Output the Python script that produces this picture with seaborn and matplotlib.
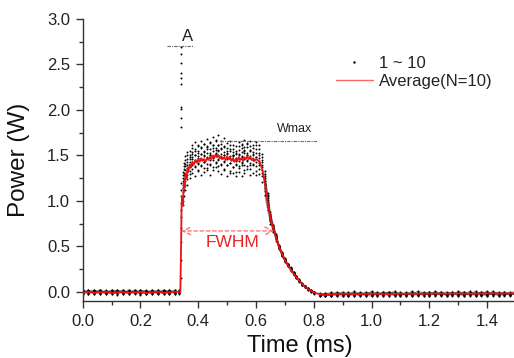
import numpy as np
import pandas as pd
import matplotlib
matplotlib.use("Agg")
import matplotlib.pyplot as plt
from matplotlib.lines import Line2D
from matplotlib.ticker import MultipleLocator, FormatStrFormatter
import seaborn as sns

# ---------------- data ----------------
# sample times of the 10 individual traces (ms)
t_pre = [0.00, 0.02, 0.04, 0.06, 0.08, 0.10, 0.12, 0.14, 0.16, 0.18, 0.20,
         0.22, 0.24, 0.26, 0.28, 0.30, 0.32]
t_edge = [0.335, 0.340, 0.342, 0.346, 0.350, 0.355, 0.360]
t_plat = [0.37, 0.38, 0.39, 0.40, 0.41, 0.42, 0.43, 0.44, 0.45, 0.46, 0.47,
          0.48, 0.49, 0.50, 0.51, 0.52, 0.53, 0.54, 0.55, 0.56, 0.57, 0.58,
          0.59, 0.60, 0.61, 0.62]
t_fall = [0.63, 0.64, 0.65, 0.66, 0.67, 0.68, 0.69, 0.70, 0.71, 0.72, 0.73,
          0.74, 0.75, 0.76, 0.77, 0.78, 0.79, 0.80]
t_post = [0.82, 0.84, 0.86, 0.88, 0.90, 0.92, 0.94, 0.96, 0.98, 1.00, 1.02,
          1.04, 1.06, 1.08, 1.10, 1.12, 1.14, 1.16, 1.18, 1.20, 1.22, 1.24,
          1.26, 1.28, 1.30, 1.32, 1.34, 1.36, 1.38, 1.40, 1.42, 1.44, 1.46,
          1.48, 1.50]

# power of traces 1..10 (W), one row per trace
pre_vals = [
    [0.01, -0.02, 0.00, 0.02, -0.01, 0.01, -0.03, 0.00, 0.02, -0.01, 0.01, -0.02, 0.02, 0.00, -0.01, 0.01, -0.02],
    [-0.01, 0.02, -0.02, 0.00, 0.01, -0.01, 0.02, -0.02, 0.00, 0.01, -0.03, 0.01, 0.00, -0.02, 0.02, -0.01, 0.01],
    [0.00, -0.01, 0.02, -0.02, 0.00, 0.02, -0.01, 0.01, -0.02, 0.00, 0.02, -0.01, -0.02, 0.01, 0.00, -0.02, 0.02],
    [0.02, 0.00, -0.01, 0.01, -0.02, 0.00, 0.01, -0.01, 0.02, -0.02, 0.00, 0.01, -0.01, 0.02, -0.02, 0.00, -0.01],
    [-0.02, 0.01, 0.00, -0.01, 0.02, -0.02, 0.00, 0.02, -0.01, 0.01, -0.01, 0.00, 0.02, -0.01, 0.01, -0.02, 0.00],
    [0.01, 0.00, -0.02, 0.02, 0.00, -0.01, 0.01, 0.00, -0.02, 0.02, 0.00, -0.02, 0.01, -0.01, 0.02, 0.00, 0.01],
    [-0.01, 0.01, 0.02, -0.02, 0.01, 0.00, -0.02, 0.01, 0.00, -0.01, 0.02, 0.01, -0.02, 0.00, -0.01, 0.02, -0.01],
    [0.00, 0.02, -0.01, 0.00, -0.02, 0.02, 0.00, -0.01, 0.01, 0.02, -0.01, -0.02, 0.00, 0.02, 0.01, -0.01, 0.00],
    [0.02, -0.02, 0.01, -0.01, 0.00, 0.01, 0.02, -0.02, 0.00, -0.01, 0.01, 0.02, -0.01, 0.00, -0.02, 0.01, 0.02],
    [-0.02, 0.00, 0.01, 0.02, -0.01, -0.02, 0.01, 0.02, -0.01, 0.00, -0.02, 0.00, 0.01, -0.02, 0.01, 0.02, -0.02],
]
edge_vals = [
    [0.00, 0.15, 2.69, 0.95, 1.05, 1.12, 1.18],
    [0.01, 0.35, 2.62, 1.00, 1.12, 1.18, 1.24],
    [-0.01, 0.55, 2.52, 1.05, 1.15, 1.22, 1.28],
    [0.02, 0.70, 2.41, 1.10, 1.20, 1.27, 1.32],
    [0.00, 0.82, 2.35, 1.14, 1.24, 1.30, 1.36],
    [-0.02, 0.90, 2.29, 1.18, 1.28, 1.34, 1.40],
    [0.01, 0.98, 2.03, 1.22, 1.31, 1.38, 1.43],
    [0.00, 1.05, 2.01, 1.25, 1.35, 1.41, 1.46],
    [-0.01, 1.12, 1.91, 1.28, 1.38, 1.45, 1.50],
    [0.02, 1.20, 1.81, 1.32, 1.42, 1.49, 1.54],
]
plat_vals = [
    [1.25, 1.31, 1.27, 1.34, 1.29, 1.32, 1.36, 1.29, 1.34, 1.37, 1.33, 1.30, 1.34, 1.27, 1.31, 1.31, 1.27, 1.32, 1.27, 1.31, 1.35, 1.28, 1.31, 1.28, 1.30, 1.21],
    [1.30, 1.35, 1.38, 1.33, 1.39, 1.36, 1.34, 1.41, 1.37, 1.43, 1.38, 1.40, 1.35, 1.39, 1.33, 1.37, 1.32, 1.36, 1.39, 1.34, 1.38, 1.35, 1.39, 1.33, 1.35, 1.27],
    [1.33, 1.40, 1.37, 1.42, 1.38, 1.43, 1.41, 1.39, 1.45, 1.42, 1.46, 1.41, 1.43, 1.39, 1.42, 1.37, 1.41, 1.38, 1.42, 1.40, 1.44, 1.39, 1.41, 1.38, 1.39, 1.31],
    [1.37, 1.42, 1.45, 1.41, 1.46, 1.43, 1.48, 1.45, 1.47, 1.50, 1.45, 1.48, 1.44, 1.46, 1.42, 1.45, 1.40, 1.44, 1.43, 1.47, 1.45, 1.42, 1.46, 1.43, 1.42, 1.34],
    [1.40, 1.46, 1.44, 1.49, 1.46, 1.50, 1.47, 1.51, 1.49, 1.53, 1.50, 1.47, 1.51, 1.48, 1.46, 1.49, 1.44, 1.47, 1.49, 1.46, 1.50, 1.47, 1.45, 1.48, 1.44, 1.37],
    [1.43, 1.48, 1.51, 1.47, 1.52, 1.49, 1.53, 1.51, 1.55, 1.52, 1.56, 1.52, 1.50, 1.53, 1.49, 1.51, 1.47, 1.52, 1.48, 1.53, 1.51, 1.49, 1.52, 1.48, 1.47, 1.40],
    [1.46, 1.52, 1.50, 1.55, 1.52, 1.54, 1.57, 1.53, 1.58, 1.56, 1.55, 1.58, 1.54, 1.52, 1.55, 1.51, 1.53, 1.50, 1.54, 1.56, 1.53, 1.55, 1.51, 1.53, 1.50, 1.43],
    [1.48, 1.54, 1.57, 1.53, 1.58, 1.55, 1.59, 1.57, 1.61, 1.58, 1.62, 1.57, 1.59, 1.55, 1.57, 1.54, 1.52, 1.56, 1.58, 1.55, 1.59, 1.56, 1.54, 1.57, 1.53, 1.45],
    [1.51, 1.58, 1.55, 1.61, 1.59, 1.63, 1.60, 1.64, 1.62, 1.66, 1.61, 1.63, 1.60, 1.58, 1.61, 1.57, 1.55, 1.60, 1.62, 1.59, 1.63, 1.60, 1.58, 1.61, 1.57, 1.48],
    [1.55, 1.62, 1.65, 1.60, 1.66, 1.63, 1.68, 1.65, 1.70, 1.67, 1.72, 1.66, 1.69, 1.64, 1.66, 1.62, 1.60, 1.65, 1.63, 1.67, 1.64, 1.66, 1.62, 1.65, 1.61, 1.52],
]
fall_vals = [
    [1.06, 0.90, 0.75, 0.66, 0.56, 0.47, 0.39, 0.33, 0.28, 0.23, 0.19, 0.15, 0.11, 0.08, 0.05, 0.02, 0.00, -0.02],
    [1.11, 0.93, 0.78, 0.67, 0.58, 0.48, 0.40, 0.34, 0.29, 0.24, 0.20, 0.15, 0.12, 0.08, 0.06, 0.03, 0.01, -0.01],
    [1.14, 0.95, 0.79, 0.68, 0.59, 0.48, 0.41, 0.34, 0.29, 0.25, 0.20, 0.16, 0.12, 0.09, 0.05, 0.03, 0.00, -0.01],
    [1.17, 0.97, 0.80, 0.69, 0.59, 0.49, 0.41, 0.35, 0.30, 0.25, 0.20, 0.16, 0.12, 0.08, 0.06, 0.02, 0.01, 0.00],
    [1.19, 0.99, 0.81, 0.70, 0.60, 0.49, 0.42, 0.35, 0.30, 0.25, 0.21, 0.16, 0.13, 0.09, 0.05, 0.03, 0.02, -0.01],
    [1.22, 1.01, 0.82, 0.70, 0.60, 0.50, 0.42, 0.35, 0.30, 0.26, 0.20, 0.17, 0.12, 0.09, 0.06, 0.04, 0.01, 0.00],
    [1.25, 1.03, 0.83, 0.71, 0.61, 0.50, 0.42, 0.36, 0.30, 0.25, 0.21, 0.16, 0.13, 0.08, 0.06, 0.03, 0.02, -0.01],
    [1.27, 1.05, 0.85, 0.72, 0.62, 0.51, 0.43, 0.35, 0.31, 0.26, 0.21, 0.17, 0.12, 0.09, 0.05, 0.04, 0.01, 0.00],
    [1.30, 1.07, 0.86, 0.73, 0.63, 0.51, 0.43, 0.36, 0.31, 0.26, 0.22, 0.17, 0.13, 0.10, 0.06, 0.03, 0.02, -0.01],
    [1.33, 1.09, 0.88, 0.74, 0.64, 0.52, 0.44, 0.37, 0.31, 0.27, 0.22, 0.18, 0.14, 0.09, 0.07, 0.04, 0.01, 0.00],
]
post_vals = [
    [-0.03, -0.05, -0.02, -0.04, -0.01, -0.03, 0.00, -0.02, -0.04, -0.01, -0.03, 0.00, -0.02, -0.04, -0.01, -0.02, 0.01, -0.03, -0.01, -0.04, -0.02, 0.00, -0.03, -0.01, -0.02, -0.04, 0.00, -0.02, -0.01, -0.03, 0.01, -0.02, -0.04, -0.01, -0.02],
    [-0.02, -0.04, -0.01, -0.03, -0.05, -0.02, -0.01, -0.03, 0.00, -0.02, -0.04, -0.01, -0.03, -0.02, 0.00, -0.04, -0.02, -0.01, -0.03, 0.00, -0.02, -0.04, -0.01, -0.03, 0.01, -0.02, -0.03, -0.01, -0.04, -0.02, 0.00, -0.03, -0.01, -0.02, 0.00],
    [-0.04, -0.02, -0.05, -0.01, -0.03, -0.02, -0.04, 0.00, -0.02, -0.03, -0.01, -0.04, -0.02, 0.01, -0.03, -0.01, -0.04, -0.02, 0.00, -0.03, -0.01, -0.02, -0.04, 0.00, -0.03, -0.01, -0.02, 0.01, -0.03, -0.04, -0.01, -0.02, 0.00, -0.03, -0.01],
    [-0.01, -0.03, -0.04, -0.02, 0.00, -0.04, -0.02, -0.01, -0.03, -0.05, -0.02, 0.00, -0.01, -0.03, -0.04, 0.00, -0.02, -0.03, -0.01, -0.02, 0.00, -0.03, -0.02, -0.04, -0.01, 0.00, -0.03, -0.02, -0.01, 0.00, -0.03, -0.01, -0.02, -0.04, -0.01],
    [-0.03, -0.02, -0.03, 0.00, -0.02, -0.04, -0.03, -0.01, -0.02, 0.00, -0.03, -0.02, -0.04, -0.01, -0.02, -0.03, 0.00, -0.04, -0.02, -0.01, -0.03, -0.01, 0.00, -0.02, -0.04, -0.03, -0.01, -0.04, 0.00, -0.01, -0.02, -0.04, -0.03, 0.00, -0.03],
    [-0.02, -0.03, -0.04, -0.02, -0.01, 0.00, -0.03, -0.04, -0.01, -0.02, 0.00, -0.03, -0.01, -0.04, -0.02, -0.03, -0.01, 0.00, -0.04, -0.02, -0.01, -0.03, -0.02, 0.00, -0.02, -0.04, -0.01, -0.03, -0.02, 0.01, -0.04, -0.02, 0.00, -0.01, -0.03],
    [-0.04, -0.03, 0.00, -0.02, -0.03, -0.01, -0.04, -0.02, -0.03, 0.01, -0.02, -0.03, 0.00, -0.02, -0.04, -0.01, -0.03, -0.02, -0.04, -0.01, -0.03, 0.00, -0.02, -0.01, -0.03, -0.02, 0.01, -0.04, -0.03, -0.02, -0.01, 0.00, -0.03, -0.02, -0.04],
    [-0.03, -0.01, -0.02, -0.04, -0.02, -0.03, 0.01, -0.03, -0.01, -0.04, -0.01, -0.02, -0.04, -0.03, -0.01, -0.02, -0.03, 0.01, -0.01, -0.04, -0.02, -0.03, -0.01, -0.02, -0.04, 0.00, -0.02, -0.01, -0.03, -0.04, -0.02, -0.01, -0.03, -0.01, 0.01],
    [-0.02, -0.04, -0.03, -0.01, -0.04, -0.01, -0.02, -0.04, -0.02, -0.01, -0.04, -0.02, 0.00, -0.01, -0.03, -0.04, -0.01, -0.03, -0.02, -0.03, 0.01, -0.02, -0.04, -0.03, 0.00, -0.02, -0.04, -0.03, 0.00, -0.03, -0.02, -0.04, -0.01, -0.03, -0.02],
    [-0.05, -0.02, -0.03, -0.03, -0.02, -0.04, -0.02, -0.03, -0.04, -0.03, -0.02, -0.04, -0.02, 0.00, -0.03, -0.02, -0.04, -0.03, -0.02, 0.00, -0.04, -0.02, -0.03, -0.02, -0.01, -0.03, -0.02, 0.00, -0.01, -0.02, -0.03, -0.03, -0.02, -0.03, -0.02],
]

# average of the 10 traces (red line)
avg_t = [0.00, 0.02, 0.04, 0.06, 0.08, 0.10, 0.12, 0.14, 0.16, 0.18, 0.20, 0.22,
         0.24, 0.26, 0.28, 0.30, 0.32, 0.338,
         0.341, 0.342, 0.344, 0.347, 0.350, 0.353, 0.356, 0.360, 0.363, 0.366,
         0.370, 0.375,
         0.380, 0.385, 0.390, 0.395, 0.400, 0.405, 0.410, 0.415, 0.420, 0.425,
         0.430, 0.435, 0.440, 0.445, 0.450, 0.455, 0.460, 0.465, 0.470, 0.475,
         0.480, 0.485, 0.490, 0.495, 0.500, 0.505, 0.510, 0.515, 0.520, 0.525,
         0.530, 0.535, 0.540, 0.545, 0.550, 0.555, 0.560, 0.565, 0.570, 0.575,
         0.580, 0.585, 0.590, 0.595, 0.600, 0.605, 0.610,
         0.615, 0.620, 0.625, 0.630, 0.635, 0.640, 0.645, 0.650, 0.655, 0.660,
         0.665, 0.670, 0.675, 0.680,
         0.690, 0.700, 0.710, 0.720, 0.730, 0.740, 0.750, 0.760, 0.770, 0.780,
         0.790, 0.800, 0.810, 0.820,
         0.840, 0.860, 0.880, 0.900,
         0.95, 1.00, 1.05, 1.10, 1.15, 1.20, 1.25, 1.30, 1.35, 1.40, 1.45, 1.50]
avg_p = [-0.01, 0.00, -0.01, -0.005, 0.00, -0.01, -0.005, 0.00, -0.01, -0.005,
         0.00, -0.01, -0.005, 0.00, -0.01, -0.005, 0.00, -0.005,
         0.60, 0.90, 1.05, 0.95, 1.20, 1.15, 1.30, 1.25, 1.36, 1.32, 1.40, 1.37,
         1.43, 1.40, 1.45, 1.42, 1.46, 1.43, 1.47, 1.44, 1.46, 1.43,
         1.47, 1.45, 1.48, 1.46, 1.50, 1.47, 1.51, 1.48, 1.50, 1.47,
         1.49, 1.46, 1.48, 1.45, 1.49, 1.46, 1.48, 1.44, 1.47, 1.43,
         1.46, 1.44, 1.48, 1.45, 1.47, 1.44, 1.48, 1.46, 1.49, 1.46,
         1.48, 1.45, 1.47, 1.44, 1.46, 1.45, 1.44,
         1.41, 1.36, 1.30, 1.20, 1.09, 0.99, 0.90, 0.81, 0.75, 0.70,
         0.645, 0.59, 0.54, 0.49,
         0.42, 0.35, 0.295, 0.25, 0.20, 0.16, 0.12, 0.085, 0.055, 0.03,
         0.01, -0.005, -0.015, -0.025,
         -0.033, -0.03, -0.025, -0.02,
         -0.025, -0.02, -0.025, -0.02, -0.022, -0.018, -0.02, -0.017, -0.02,
         -0.015, -0.018, -0.015]

# annotation values
peak_A = 2.70
w_max = 1.66
fwhm_level = 0.67
fwhm_start, fwhm_end = 0.342, 0.662

# ---------------- build tidy tables ----------------
segments = [("pre", t_pre, pre_vals), ("edge", t_edge, edge_vals),
            ("plat", t_plat, plat_vals), ("fall", t_fall, fall_vals),
            ("post", t_post, post_vals)]
rows = []
for name, ts, vals in segments:
    for k in range(10):
        assert len(vals[k]) == len(ts), (name, k, len(vals[k]), len(ts))
        for tt, pp in zip(ts, vals[k]):
            rows.append((k + 1, name, tt, pp))
df = pd.DataFrame(rows, columns=["trace", "segment", "time", "power"])
assert len(avg_t) == len(avg_p), (len(avg_t), len(avg_p))
df_avg = pd.DataFrame({"time": avg_t, "power": avg_p})

# ---------------- plot ----------------
sns.set_style("ticks")
plt.rcParams["font.family"] = ["Liberation Sans", "DejaVu Sans"]

W, H = 514, 358
fig = plt.figure(figsize=(W / 100, H / 100), dpi=100)
ax = fig.add_axes([82.7 / W, 57 / H, (516 - 82.7) / W, 282 / H])

# faint connection of samples on the flat baselines / falling edge (dense band)
for (k, seg), g in df.groupby(["trace", "segment"]):
    if seg in ("pre", "post", "fall"):
        g = g.sort_values("time")
        ax.plot(g["time"], g["power"], color="black", lw=0.6, alpha=0.35,
                zorder=1)
sns.scatterplot(data=df, x="time", y="power", color="black", s=2.0,
                linewidth=0, ax=ax, legend=False, zorder=2)
sns.lineplot(data=df_avg, x="time", y="power", color="#ee1111", lw=1.3,
             sort=False, estimator=None, ax=ax, zorder=3)

ax.set_xlim(0, 1.5)
ax.set_ylim(-0.1, 3.0)
ax.xaxis.set_major_locator(MultipleLocator(0.2))
ax.xaxis.set_minor_locator(MultipleLocator(0.1))
ax.yaxis.set_major_locator(MultipleLocator(0.5))
ax.yaxis.set_minor_locator(MultipleLocator(0.25))
ax.xaxis.set_major_formatter(FormatStrFormatter("%.1f"))
ax.yaxis.set_major_formatter(FormatStrFormatter("%.1f"))
ax.tick_params(which="major", direction="out", length=5, width=1,
               color="#333333", labelsize=12, labelcolor="#222222", pad=4)
ax.tick_params(which="minor", direction="out", length=3, width=1, color="#333333")
for s in ["top", "right"]:
    ax.spines[s].set_visible(False)
for s in ["left", "bottom"]:
    ax.spines[s].set_color("#333333")
    ax.spines[s].set_linewidth(1)

ax.set_xlabel("Time (ms)", fontsize=17, color="#111111", labelpad=5)
ax.set_ylabel("Power (W)", fontsize=17.5, color="#111111", labelpad=12)

# annotation A
ax.plot([0.292, 0.385], [peak_A, peak_A], color="#666666", lw=0.8,
        ls=(0, (3, 1, 1, 1)), zorder=4)
ax.text(0.363, peak_A + 0.02, "A", fontsize=12, ha="center", va="bottom",
        color="#222222")

# Wmax
ax.plot([0.475, 0.81], [w_max, w_max], color="#666666", lw=0.8,
        ls=(0, (3, 1, 1, 1)), zorder=4)
ax.text(0.735, w_max + 0.07, "Wmax", fontsize=9, ha="center", va="bottom",
        color="#222222")

# FWHM arrow
ax.annotate("", xy=(fwhm_start, fwhm_level), xytext=(fwhm_end, fwhm_level),
            arrowprops=dict(arrowstyle="<->", color="#ff6b6b", lw=0.9,
                            ls=(0, (3, 2)), mutation_scale=14,
                            shrinkA=0, shrinkB=0), zorder=5)
ax.text(0.518, fwhm_level - 0.13, "FWHM", fontsize=12.5, ha="center",
        va="center", color="#ee2222")

# legend
handles = [Line2D([], [], marker=".", ls="none", color="black", markersize=1.5),
           Line2D([], [], color="#ff6666", lw=1)]
leg = ax.legend(handles, ["1 ~ 10", "Average(N=10)"], loc="center left",
                bbox_to_anchor=(336 / W, 1 - 72.5 / H),
                bbox_transform=fig.transFigure, frameon=False, fontsize=12,
                handlelength=2.2, handletextpad=0.4, labelspacing=0.15,
                borderpad=0, borderaxespad=0)
for txt in leg.get_texts():
    txt.set_color("#222222")

fig.savefig("out.png", dpi=100)
